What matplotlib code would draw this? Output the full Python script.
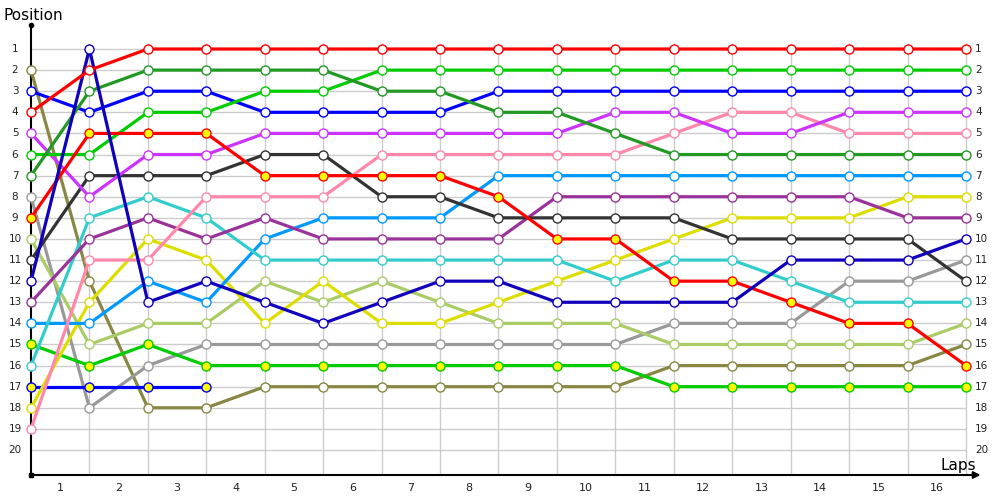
import matplotlib
matplotlib.use("Agg")
import matplotlib.pyplot as plt

laps = list(range(17))
lap_labels = [str(i) for i in range(1, 17)]
positions = list(range(1, 21))

# driver series: (line colour, marker face colour, positions per lap)
red = [4,2,1,1,1,1,1,1,1,1,1,1,1,1,1,1,1]
dkgreen = [7,3,2,2,2,2,3,3,4,4,5,6,6,6,6,6,6]
green = [6,6,4,4,3,3,2,2,2,2,2,2,2,2,2,2,2]
blue = [3,4,3,3,4,4,4,4,3,3,3,3,3,3,3,3,3]
violet = [5,8,6,6,5,5,5,5,5,5,4,4,5,5,4,4,4]
pink = [19,11,11,8,8,8,6,6,6,6,6,5,4,4,5,5,5]
red_y = [9,5,5,5,7,7,7,7,8,10,10,12,12,13,14,14,16]
dkgray = [11,7,7,7,6,6,8,8,9,9,9,9,10,10,10,10,12]
cyan = [16,9,8,9,11,11,11,11,11,11,12,11,11,12,13,13,13]
ltblue = [14,14,12,13,10,9,9,9,7,7,7,7,7,7,7,7,7]
dkpurple = [13,10,9,10,9,10,10,10,10,8,8,8,8,8,8,9,9]
yellow = [18,13,10,11,14,12,14,14,13,12,11,10,9,9,9,8,8]
navy = [12,1,13,12,13,14,13,12,12,13,13,13,13,11,11,11,10]
ltgreen = [10,15,14,14,12,13,12,13,14,14,14,15,15,15,15,15,14]
gray = [8,18,16,15,15,15,15,15,15,15,15,14,14,14,12,12,11]
green_y = [15,16,15,16,16,16,16,16,16,16,16,17,17,17,17,17,17]
blue_y = [17,17,17,17]
olive = [2,12,18,18,17,17,17,17,17,17,17,16,16,16,16,16,15]

series = [
    ("#888844", "white", olive),
    ("#999999", "white", gray),
    ("#0000ff", "#ffff00", blue_y),
    ("#00cc00", "#ffff00", green_y),
    ("#aacc66", "white", ltgreen),
    ("#dddd00", "white", yellow),
    ("#0099ff", "white", ltblue),
    ("#33cccc", "white", cyan),
    ("#993399", "white", dkpurple),
    ("#333333", "white", dkgray),
    ("#ff88aa", "white", pink),
    ("#cc33ff", "white", violet),
    ("#0000ff", "white", blue),
    ("#00cc00", "white", green),
    ("#229922", "white", dkgreen),
    ("#ff0000", "#ffff00", red_y),
    ("#1100bb", "white", navy),
    ("#ff0000", "white", red),
]

fig = plt.figure(figsize=(10, 5), dpi=100)
ax = fig.add_axes([0, 0, 1, 1])
dx = (966 - 31) / 16.0
dy = (450 - 49) / 19.0
ax.set_xlim(-31 / dx, (1000 - 31) / dx)
ax.set_ylim(1 + 451 / dy, 1 - 49 / dy)
ax.axis("off")

ybot = 1 + (475 - 49) / dy
ytop_grid = 1 - 6 / dy
ytop_axis = 1 - 24 / dy

# grid
ax.hlines(positions, 0, 16, colors="#cccccc", linewidth=1, zorder=1)
ax.vlines(laps[1:], ytop_grid, ybot, colors="#cccccc", linewidth=1, zorder=1)

# axes
ax.plot([0, 0], [ybot, ytop_axis], color="black", lw=1.5, zorder=5, solid_capstyle="butt")
ax.plot([0], [ytop_axis], "o", color="black", ms=3, zorder=5)
ax.plot([0], [ybot], "s", color="black", ms=3, zorder=5)
ax.annotate("", xy=(16.25, ybot), xytext=(0, ybot),
            arrowprops=dict(arrowstyle="-|>", color="black", lw=1.5,
                            mutation_scale=10, shrinkA=0, shrinkB=0), zorder=5)

for p in positions:
    ax.text(-16 / dx, p, str(p), ha="center", va="center", fontsize=7.5, color="#222222")
    ax.text(16 + 9 / dx, p, str(p), ha="left", va="center", fontsize=7.5, color="#222222")
for i, lab in enumerate(lap_labels):
    ax.text(i + 0.5, ybot + 13 / dy, lab, ha="center", va="center", fontsize=8, color="#222222")

ax.text(-28 / dx, 1 - 34 / dy, "Position", ha="left", va="center", fontsize=11)
ax.text(16 + 10 / dx, ybot - 10 / dy, "Laps", ha="right", va="center", fontsize=11)

for color, face, vals in series:
    ax.plot(laps[:len(vals)], vals, "-o", color=color, lw=2.3, ms=6.5,
            mfc=face, mec=color, mew=1, zorder=10)

fig.savefig("out.png", dpi=100)
